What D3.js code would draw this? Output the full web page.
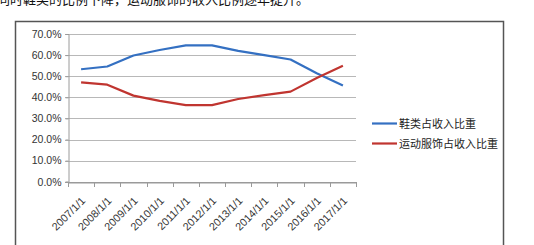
<!DOCTYPE html>
<html>
<head>
<meta charset="utf-8">
<script src="https://cdn.jsdelivr.net/npm/d3@7"></script>
<style>
  body { margin: 0; background: #fff; }
  svg { display: block; }
</style>
</head>
<body>
<div id="chart"></div>
<script>
// data
const years = ["2007/1/1", "2008/1/1", "2009/1/1", "2010/1/1", "2011/1/1", "2012/1/1",
               "2013/1/1", "2014/1/1", "2015/1/1", "2016/1/1", "2017/1/1"];
const footwear = [53.3, 54.6, 59.8, 62.4, 64.6, 64.6, 62.0, 60.0, 57.9, 51.4, 45.6];
const apparel  = [47.1, 46.0, 40.8, 38.3, 36.3, 36.3, 39.2, 41.0, 42.7, 49.1, 54.9];
const yTicks = [0, 10, 20, 30, 40, 50, 60, 70];
const seriesNames = ["鞋类占收入比重", "运动服饰占收入比重"];
const colors = ["#3470c2", "#c03530"];

const width = 534, height = 245;
const svg = d3.select("#chart").append("svg")
    .attr("width", width)
    .attr("height", height);

// text line at the top, cut by the screenshot edge like in the source
svg.append("text")
    .attr("x", -3)
    .attr("y", 4)
    .attr("font-family", "'Noto Sans CJK SC', sans-serif")
    .attr("font-size", 13)
    .attr("fill", "#111")
    .text("同时鞋类的比例下降，运动服饰的收入比例逐年提升。");

// chart frame
svg.append("rect")
    .attr("x", 15.5).attr("y", 21.5)
    .attr("width", 488).attr("height", 240)
    .attr("fill", "#fff")
    .attr("stroke", "#555")
    .attr("stroke-width", 1.5);

const x = d3.scaleBand().domain(years).range([68, 356]);
const y = d3.scaleLinear().domain([0, 70]).range([181.7, 34]);

// gridlines
svg.append("g")
    .selectAll("line")
    .data(yTicks)
    .join("line")
    .attr("x1", 65).attr("x2", 356)
    .attr("y1", d => Math.round(y(d)) + 0.5)
    .attr("y2", d => Math.round(y(d)) + 0.5)
    .attr("stroke", d => d === 0 ? "#9a9a9a" : "#b8b8b8")
    .attr("stroke-width", 1);

// y axis
const yAxis = svg.append("g")
    .attr("transform", "translate(68.5,0)")
    .call(d3.axisLeft(y).tickValues(yTicks).tickSize(3).tickFormat(d => d.toFixed(1) + "%"));
yAxis.select(".domain").attr("stroke", "#9a9a9a");
yAxis.selectAll(".tick line").attr("stroke", "#9a9a9a");
yAxis.selectAll("text")
    .attr("font-family", "'Liberation Sans', Arial, sans-serif")
    .attr("font-size", 10.5)
    .attr("fill", "#333")
    .attr("x", -7);

// x axis
const xAxis = svg.append("g")
    .attr("transform", "translate(0," + (Math.round(y(0)) + 0.5) + ")")
    .call(d3.axisBottom(x).tickSize(0));
xAxis.select(".domain").attr("stroke", "#9a9a9a");
xAxis.selectAll(".tick text")
    .attr("font-family", "'Liberation Sans', Arial, sans-serif")
    .attr("font-size", 10.8)
    .attr("fill", "#333")
    .attr("text-anchor", "end")
    .attr("x", 0)
    .attr("y", 0)
    .attr("dy", 0)
    .attr("transform", "translate(5,19) rotate(-45)");
// boundary tick marks
svg.append("g")
    .selectAll("line")
    .data(years.concat(["end"]))
    .join("line")
    .attr("x1", (d, i) => Math.round(i < years.length ? x(d) : x.range()[1]) + 0.5)
    .attr("x2", (d, i) => Math.round(i < years.length ? x(d) : x.range()[1]) + 0.5)
    .attr("y1", Math.round(y(0)))
    .attr("y2", Math.round(y(0)) + 5)
    .attr("stroke", "#9a9a9a");

// lines
const line = d3.line()
    .x((d, i) => x(years[i]) + x.bandwidth() / 2)
    .y(d => y(d));

[footwear, apparel].forEach((vals, k) => {
    svg.append("path")
        .datum(vals)
        .attr("d", line)
        .attr("fill", "none")
        .attr("stroke", colors[k])
        .attr("stroke-width", 2.2)
        .attr("stroke-linejoin", "round");
});

// legend
const legend = svg.append("g");
seriesNames.forEach((name, k) => {
    const ly = 123.5 + k * 20;
    legend.append("line")
        .attr("x1", 372).attr("x2", 397)
        .attr("y1", ly).attr("y2", ly)
        .attr("stroke", colors[k])
        .attr("stroke-width", 2.2);
    legend.append("text")
        .attr("x", 399)
        .attr("y", ly + 4)
        .attr("font-family", "'Noto Sans CJK SC', sans-serif")
        .attr("font-size", 11)
        .attr("fill", "#222")
        .text(name);
});
</script>
</body>
</html>
